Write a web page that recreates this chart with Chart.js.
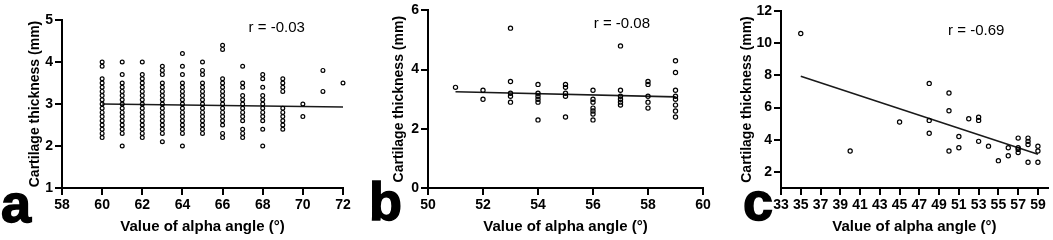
<!DOCTYPE html>
<html>
<head>
<meta charset="utf-8">
<script src="https://cdn.jsdelivr.net/npm/chart.js@4"></script>
<style>
  html, body { margin: 0; padding: 0; background: #fff; }
  #wrap { position: relative; width: 1053px; height: 240px; overflow: hidden; }
  #wrap canvas { position: absolute; left: 0; top: 0; }
</style>
</head>
<body>
<div id="wrap">
  <canvas id="chartA" width="1053" height="240"></canvas>
  <canvas id="chartB" width="1053" height="240"></canvas>
  <canvas id="chartC" width="1053" height="240"></canvas>
</div>
<script>
// panel a : alpha angle 60-72
const anglesA = [60, 61, 62, 63, 64, 65, 66, 67, 68, 69, 70, 71, 72];
const thickA = [
  [4.0, 3.9, 3.6, 3.5, 3.4, 3.3, 3.2, 3.1, 3.0, 2.9, 2.8, 2.7, 2.6, 2.5, 2.4, 2.3, 2.2],
  [4.0, 3.7, 3.5, 3.4, 3.3, 3.2, 3.1, 3.0, 2.9, 2.8, 2.7, 2.6, 2.5, 2.4, 2.3, 2.0],
  [4.0, 3.7, 3.6, 3.5, 3.4, 3.3, 3.2, 3.1, 3.0, 2.9, 2.8, 2.7, 2.6, 2.5, 2.4, 2.3, 2.2],
  [3.9, 3.8, 3.7, 3.5, 3.4, 3.3, 3.2, 3.1, 3.0, 2.9, 2.8, 2.7, 2.6, 2.5, 2.4, 2.3, 2.1],
  [4.2, 3.9, 3.7, 3.5, 3.4, 3.3, 3.2, 3.1, 3.0, 2.9, 2.8, 2.7, 2.6, 2.5, 2.4, 2.3, 2.0],
  [4.0, 3.8, 3.7, 3.5, 3.4, 3.3, 3.2, 3.1, 3.0, 2.9, 2.8, 2.7, 2.6, 2.5, 2.4, 2.3],
  [4.4, 4.3, 3.6, 3.5, 3.4, 3.3, 3.2, 3.1, 3.0, 2.9, 2.8, 2.7, 2.6, 2.5, 2.3, 2.2],
  [3.9, 3.5, 3.4, 3.2, 3.1, 3.0, 2.9, 2.8, 2.7, 2.6, 2.4, 2.3, 2.2],
  [3.7, 3.6, 3.4, 3.2, 3.1, 3.0, 2.9, 2.8, 2.7, 2.6, 2.4, 2.0],
  [3.6, 3.5, 3.4, 3.3, 2.9, 2.8, 2.7, 2.6, 2.5, 2.4],
  [3.0, 2.7],
  [3.8, 3.3],
  [3.5]
];
const fitXA = [60, 72];
const fitYA = [3.0, 2.93];
const xTicksA = [58, 60, 62, 64, 66, 68, 70, 72];
const yTicksA = [1, 2, 3, 4, 5];

// panel b : alpha angle 51-59
const anglesB = [51, 52, 53, 54, 55, 56, 57, 58, 59];
const thickB = [
  [3.4],
  [3.3, 3.0],
  [5.4, 3.6, 3.2, 3.1, 2.9],
  [3.5, 3.2, 3.1, 3.0, 2.9, 2.3],
  [3.5, 3.4, 3.2, 3.1, 2.4],
  [3.3, 3.0, 2.9, 2.7, 2.6, 2.5, 2.3],
  [4.8, 3.3, 3.1, 3.0, 2.9, 2.8],
  [3.6, 3.5, 3.1, 2.9, 2.7],
  [4.3, 3.9, 3.3, 3.1, 3.0, 2.8, 2.6, 2.4]
];
const fitXB = [51, 59];
const fitYB = [3.25, 3.08];
const xTicksB = [50, 52, 54, 56, 58, 60];
const yTicksB = [0, 2, 4, 6];

// panel c : alpha angle 35-59
const anglesC = [35, 40, 45, 48, 50, 51, 52, 53, 54, 55, 56, 57, 58, 59];
const thickC = [
  [10.6],
  [3.3],
  [5.1],
  [7.5, 5.2, 4.4],
  [6.9, 5.8, 3.3],
  [4.2, 3.5],
  [5.3],
  [5.4, 5.2, 3.9],
  [3.6],
  [2.7],
  [3.5, 3.0],
  [4.1, 3.5, 3.4, 3.2],
  [4.1, 3.9, 3.7, 2.6],
  [3.6, 3.3, 2.6]
];
const fitXC = [35, 59];
const fitYC = [7.95, 3.1];
const xTicksC = [33, 35, 37, 39, 41, 43, 45, 47, 49, 51, 53, 55, 57, 59];
const yTicksC = [2, 4, 6, 8, 10, 12];

const corrLabels = ['r = -0.03', 'r = -0.08', 'r = -0.69'];
const panelLetters = ['a', 'b', 'c'];

const FONT = "'Liberation Sans', Arial, sans-serif";
Chart.defaults.color = '#000';
Chart.defaults.font.family = FONT;

const tickFont = { family: FONT, size: 14, weight: 700 };

function toPoints(angles, values) {
  const pts = [];
  angles.forEach((a, i) => {
    values[i].forEach(v => pts.push({ x: a, y: v }));
  });
  return pts;
}

// r value + big panel letter
const corrPlugin = {
  id: 'corr',
  afterDatasetsDraw(chart, args, opts) {
    const { ctx, scales: { x, y } } = chart;
    ctx.save();
    ctx.fillStyle = '#000';
    ctx.font = '15px ' + FONT;
    ctx.textAlign = 'center';
    ctx.textBaseline = 'middle';
    ctx.fillText(opts.text, x.getPixelForValue(opts.at[0]), y.getPixelForValue(opts.at[1]));
    ctx.font = 'bold 54px ' + FONT;
    ctx.textAlign = 'left';
    ctx.textBaseline = 'alphabetic';
    ctx.lineWidth = 1.5;
    ctx.strokeStyle = '#000';
    ctx.fillText(opts.letter, opts.letterPos[0], opts.letterPos[1]);
    ctx.strokeText(opts.letter, opts.letterPos[0], opts.letterPos[1]);
    ctx.restore();
  }
};

function panel(id, cfg) {
  return new Chart(document.getElementById(id), {
    type: 'scatter',
    data: {
      datasets: [{
        data: toPoints(cfg.angles, cfg.thick),
        pointRadius: cfg.radius,
        pointBorderWidth: 1.2,
        pointBorderColor: '#000',
        pointBackgroundColor: 'rgba(255,255,255,0)',
        clip: false
      }, {
        data: cfg.fitX.map((x, i) => ({ x: x, y: cfg.fitY[i] })),
        showLine: true,
        borderColor: '#1a1a1a',
        borderWidth: 1.6,
        pointRadius: 0,
        clip: false
      }]
    },
    options: {
      responsive: false,
      animation: false,
      events: [],
      layout: { padding: cfg.pad },
      plugins: {
        legend: { display: false },
        tooltip: { enabled: false },
        corr: { text: cfg.label, at: cfg.labelAt, letter: cfg.letter, letterPos: cfg.letterPos }
      },
      scales: {
        x: {
          type: 'linear',
          min: cfg.xMin,
          max: cfg.xMax,
          afterBuildTicks: s => { s.ticks = cfg.xTicks.map(v => ({ value: v })); },
          afterFit: s => { s.height = 52; },
          border: { color: '#000', width: 2 },
          grid: { drawOnChartArea: false, color: '#000', lineWidth: 2, tickLength: 7 },
          ticks: { font: tickFont, color: '#000', padding: 2, maxRotation: 0, autoSkip: false },
          title: {
            display: true,
            text: 'Value of alpha angle (°)',
            font: { family: FONT, size: 15, weight: 700 },
            color: '#000',
            padding: { top: 0, bottom: 4 }
          }
        },
        y: {
          min: cfg.yMin,
          max: cfg.yMax,
          afterBuildTicks: s => { s.ticks = cfg.yTicks.map(v => ({ value: v })); },
          afterFit: s => { s.width = cfg.yWidth; },
          border: { color: '#000', width: 2 },
          grid: { drawOnChartArea: false, color: '#000', lineWidth: 2, tickLength: 7 },
          ticks: { font: tickFont, color: '#000', padding: 2 },
          title: {
            display: true,
            text: 'Cartilage thickness (mm)',
            font: { family: FONT, size: 14, weight: 700 },
            color: '#000',
            padding: { top: 4, bottom: 0 }
          }
        }
      }
    },
    plugins: [corrPlugin]
  });
}

document.addEventListener("DOMContentLoaded", function () {

  panel('chartA', {
    angles: anglesA, thick: thickA, fitX: fitXA, fitY: fitYA,
    xMin: 58, xMax: 72, yMin: 1, yMax: 5, xTicks: xTicksA, yTicks: yTicksA,
    radius: 1.9, yWidth: 39,
    pad: { left: 23, top: 20, right: 710, bottom: 0 },
    label: corrLabels[0], labelAt: [68.7, 4.81],
    letter: panelLetters[0], letterPos: [1, 222]
  });

  panel('chartB', {
    angles: anglesB, thick: thickB, fitX: fitXB, fitY: fitYB,
    xMin: 50, xMax: 60, yMin: 0, yMax: 6, xTicks: xTicksB, yTicks: yTicksB,
    radius: 2.1, yWidth: 41,
    pad: { left: 387, top: 8, right: 350, bottom: 0 },
    label: corrLabels[1], labelAt: [57.05, 5.54],
    letter: panelLetters[1], letterPos: [369, 220]
  });

  panel('chartC', {
    angles: anglesC, thick: thickC, fitX: fitXC, fitY: fitYC,
    xMin: 33, xMax: 60, yMin: 1, yMax: 12, xTicks: xTicksC, yTicks: yTicksC,
    radius: 2.1, yWidth: 46,
    pad: { left: 735, top: 11, right: 4, bottom: 0 },
    label: corrLabels[2], labelAt: [52.76, 10.74],
    letter: panelLetters[2], letterPos: [743, 220]
  });

});
</script>
</body>
</html>
